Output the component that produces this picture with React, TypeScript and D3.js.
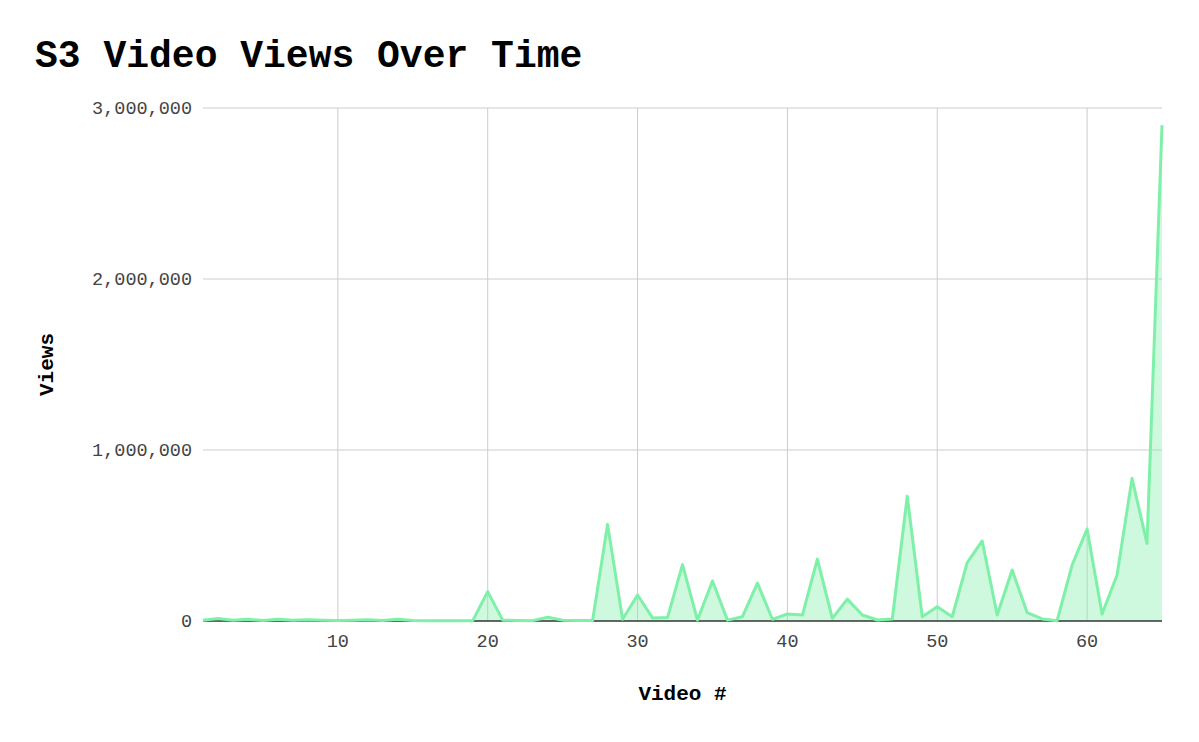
import React from "react";
import * as d3 from "d3";

const videoNumbers: number[] = Array.from({ length: 65 }, (_, i) => i + 1);
const views: number[] = [
  5000, 15000, 5000, 10000, 3000, 10000, 5000, 8000, 5000, 3000,
  5000, 8000, 3000, 10000, 3000, 2000, 2000, 2000, 2000, 172000,
  5000, 3000, 2000, 22000, 5000, 3000, 3000, 565000, 10000, 152000,
  18000, 20000, 330000, 5000, 234000, 5000, 25000, 222000, 10000, 41000,
  35000, 362000, 15000, 128000, 35000, 6000, 12000, 730000, 25000, 84000,
  25000, 341000, 468000, 35000, 298000, 49000, 12000, 2000, 327000, 538000,
  41000, 269000, 834000, 454000, 2900000,
];
const xTicks: number[] = [10, 20, 30, 40, 50, 60];
const yTicks: number[] = [0, 1000000, 2000000, 3000000];

const W = 1199;
const H = 742;
const M = { left: 203, right: 1162, top: 108, bottom: 621 };
const FONT = "'Liberation Mono', 'Courier New', monospace";

export default function App() {
  const x = d3.scaleLinear().domain([1, 65]).range([M.left, M.right]);
  const y = d3.scaleLinear().domain([0, 3000000]).range([M.bottom, M.top]);
  const data = videoNumbers.map((v, i) => ({ v, n: views[i] }));
  const line = d3.line<{ v: number; n: number }>().x((d) => x(d.v)).y((d) => y(d.n));
  const area = d3
    .area<{ v: number; n: number }>()
    .x((d) => x(d.v))
    .y0(y(0))
    .y1((d) => y(d.n));
  const fmt = d3.format(",");

  return (
    <svg
      width={W}
      height={H}
      style={{ position: "absolute", left: 0, top: 0, background: "#fff" }}
      fontFamily={FONT}
    >
      <rect width={W} height={H} fill="#fff" />
      <text x={35} y={67} fontSize={38} fontWeight="bold" fill="#000">
        S3 Video Views Over Time
      </text>
      {yTicks.map((t) => (
        <g key={"y" + t}>
          {t > 0 && (
            <line x1={M.left} x2={M.right} y1={y(t)} y2={y(t)} stroke="#cccccc" strokeWidth={1} />
          )}
          <text x={192} y={y(t)} dy="0.35em" textAnchor="end" fontSize={18.5} fill="#444">
            {fmt(t)}
          </text>
        </g>
      ))}
      {xTicks.map((t) => (
        <g key={"x" + t}>
          <line x1={x(t)} x2={x(t)} y1={M.top} y2={M.bottom} stroke="#cccccc" strokeWidth={1} />
          <text x={x(t)} y={647} textAnchor="middle" fontSize={18.5} fill="#444">
            {t}
          </text>
        </g>
      ))}
      <path d={area(data) || ""} fill="#7ef0a8" fillOpacity={0.38} />
      <line x1={M.left} x2={M.right} y1={M.bottom} y2={M.bottom} stroke="#333" strokeWidth={1.5} />
      <path d={line(data) || ""} fill="none" stroke="#7ef0a8" strokeWidth={3} strokeLinejoin="round" />
      <text x={(M.left + M.right) / 2} y={700} textAnchor="middle" fontSize={21} fontWeight="bold" fill="#000">
        Video #
      </text>
      <text
        transform={`translate(53,${(M.top + M.bottom) / 2}) rotate(-90)`}
        textAnchor="middle"
        fontSize={21}
        fontWeight="bold"
        fill="#000"
      >
        Views
      </text>
    </svg>
  );
}
